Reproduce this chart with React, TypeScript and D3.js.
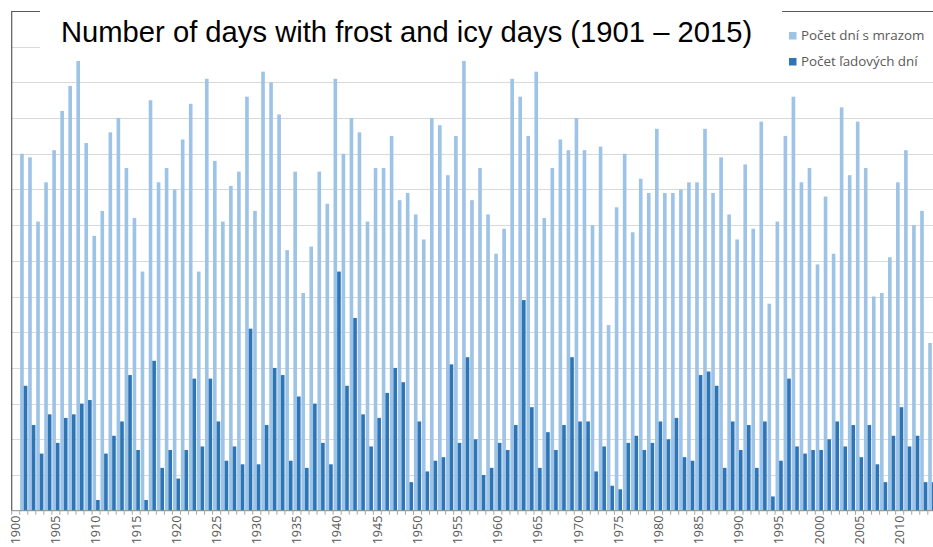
import React, { useRef, useEffect } from "react";
import * as d3 from "d3";

// categories on the axis (1900 and 2015 exist as slots, the picture is cropped at 2014)
const firstYear = 1900;
const lastYear = 2015;
const dataStartYear = 1901;

// Počet dní s mrazom (days with frost), 1901 - 2014
const frostDays = [
  100, 99, 81, 92, 101, 112, 119, 126, 103, 77,
  84, 106, 110, 96, 82, 67, 115, 92, 96, 90,
  104, 114, 67, 121, 98, 81, 91, 95, 116, 84,
  123, 120, 111, 73, 95, 61, 74, 95, 86, 121,
  100, 110, 106, 81, 96, 96, 105, 87, 89, 83,
  76, 110, 108, 94, 105, 126, 87, 96, 83, 72,
  79, 121, 116, 105, 123, 82, 96, 104, 101, 110,
  101, 80, 102, 52, 85, 100, 78, 93, 89, 107,
  89, 89, 90, 92, 92, 107, 89, 99, 83, 76,
  97, 79, 109, 58, 81, 105, 116, 92, 96, 69,
  88, 72, 113, 94, 109, 96, 60, 61, 71, 92,
  101, 80, 84, 47,
];

// Počet ľadových dní (icy days), 1901 - 2014
const icyDays = [
  35, 24, 16, 27, 19, 26, 27, 30, 31, 3,
  16, 21, 25, 38, 17, 3, 42, 12, 17, 9,
  17, 37, 18, 37, 25, 14, 18, 13, 51, 13,
  24, 40, 38, 14, 32, 12, 30, 19, 13, 67,
  35, 54, 27, 18, 26, 33, 40, 36, 8, 25,
  11, 14, 15, 41, 19, 43, 20, 10, 12, 19,
  17, 24, 59, 29, 12, 22, 17, 24, 43, 25,
  25, 11, 18, 7, 6, 19, 21, 17, 19, 25,
  20, 26, 15, 14, 38, 39, 35, 12, 25, 17,
  24, 12, 25, 4, 14, 37, 18, 16, 17, 17,
  20, 25, 18, 24, 15, 24, 13, 8, 21, 29,
  18, 21, 8, 8,
];

const seriesNames = ["Počet dní s mrazom", "Počet ľadových dní"];
const seriesColors = ["#9dc3e6", "#2e75b6"];
const yTicks = [0, 10, 20, 30, 40, 50, 60, 70, 80, 90, 100, 110, 120, 130, 140];
const labelYears = [1900, 1905, 1910, 1915, 1920, 1925, 1930, 1935, 1940, 1945, 1950, 1955, 1960, 1965, 1970, 1975, 1980, 1985, 1990, 1995, 2000, 2005, 2010];
const title = "Number of days with frost and icy days (1901 – 2015)";

const W = 933;
const H = 547;

export default function App() {
  const svgRef = useRef<SVGSVGElement>(null);

  useEffect(() => {
    const svg = d3.select(svgRef.current);
    svg.selectAll("*").remove();

    const left = 11.7;
    const step = 8.036;
    const top = 11;
    const bottom = 510.7;

    const categories = d3.range(firstYear, lastYear + 1);
    const x = d3
      .scaleBand<number>()
      .domain(categories)
      .range([left, left + categories.length * step])
      .paddingInner(0.1)
      .paddingOuter(0.05);

    const inner = d3
      .scaleBand<number>()
      .domain([0, 1])
      .range([0, x.bandwidth()]);

    const y = d3.scaleLinear().domain([0, 140]).range([bottom, top]);

    const rows = frostDays.map((f, i) => ({
      year: dataStartYear + i,
      values: [f, icyDays[i]],
    }));

    // gridlines
    svg
      .append("g")
      .selectAll("line")
      .data(yTicks.filter((t) => t > 0 && t < 140))
      .join("line")
      .attr("x1", left)
      .attr("x2", W)
      .attr("y1", (d) => Math.round(y(d)) + 0.5)
      .attr("y2", (d) => Math.round(y(d)) + 0.5)
      .attr("stroke", "#d9d9d9")
      .attr("stroke-width", 1);

    // top border line
    svg
      .append("line")
      .attr("x1", left)
      .attr("x2", W)
      .attr("y1", Math.round(y(140)) + 0.5)
      .attr("y2", Math.round(y(140)) + 0.5)
      .attr("stroke", "#595959")
      .attr("stroke-width", 1.2);

    // bars
    const groups = svg
      .append("g")
      .selectAll("g")
      .data(rows)
      .join("g")
      .attr("transform", (d) => `translate(${x(d.year)},0)`);

    groups
      .selectAll("rect")
      .data((d) => d.values.map((v, k) => ({ k, v })))
      .join("rect")
      .attr("x", (d) => inner(d.k)!)
      .attr("width", inner.bandwidth())
      .attr("y", (d) => y(d.v))
      .attr("height", (d) => y(0) - y(d.v))
      .attr("fill", (d) => seriesColors[d.k]);

    // y axis line
    svg
      .append("line")
      .attr("x1", left)
      .attr("x2", left)
      .attr("y1", top)
      .attr("y2", bottom)
      .attr("stroke", "#595959")
      .attr("stroke-width", 1.2);

    // x axis line + tick marks between categories
    svg
      .append("line")
      .attr("x1", left)
      .attr("x2", W)
      .attr("y1", bottom)
      .attr("y2", bottom)
      .attr("stroke", "#8c8c8c")
      .attr("stroke-width", 1);

    svg
      .append("g")
      .selectAll("line")
      .data(categories)
      .join("line")
      .attr("x1", (d) => x(d)! - (x.step() - x.bandwidth()) / 2)
      .attr("x2", (d) => x(d)! - (x.step() - x.bandwidth()) / 2)
      .attr("y1", bottom)
      .attr("y2", bottom + 4)
      .attr("stroke", "#a6a6a6")
      .attr("stroke-width", 1);

    // x labels
    svg
      .append("g")
      .selectAll("text")
      .data(labelYears)
      .join("text")
      .attr("transform", (d) => `translate(${x(d)! + x.bandwidth() / 2 + 4.3},${bottom + 5}) rotate(-90)`)
      .attr("text-anchor", "end")
      .attr("font-family", "'Open Sans', sans-serif")
      .attr("font-size", 12.5)
      .attr("fill", "#595959")
      .text((d) => d);

    // title box
    svg
      .append("rect")
      .attr("x", 40)
      .attr("y", 0)
      .attr("width", 742)
      .attr("height", 55)
      .attr("fill", "#fff");

    svg
      .append("text")
      .attr("x", 61)
      .attr("y", 42)
      .attr("font-family", "'Liberation Sans', Arial, sans-serif")
      .attr("font-size", 29.2)
      .attr("fill", "#000")
      .text(title);

    // legend box
    svg
      .append("rect")
      .attr("x", 782)
      .attr("y", 12.5)
      .attr("width", W - 782)
      .attr("height", 62)
      .attr("fill", "#fff");

    const legend = svg
      .append("g")
      .selectAll("g")
      .data(seriesNames)
      .join("g")
      .attr("transform", (d, i) => `translate(789,${32 + i * 26})`);

    legend
      .append("rect")
      .attr("width", 7.5)
      .attr("height", 7.5)
      .attr("fill", (d, i) => seriesColors[i]);

    legend
      .append("text")
      .attr("x", 12)
      .attr("y", 7.8)
      .attr("font-family", "'Open Sans', sans-serif")
      .attr("font-size", 13.4)
      .attr("fill", "#595959")
      .text((d) => d);
  }, []);

  return (
    <svg
      ref={svgRef}
      width={W}
      height={H}
      style={{ position: "absolute", left: 0, top: 0, background: "#fff" }}
    />
  );
}
